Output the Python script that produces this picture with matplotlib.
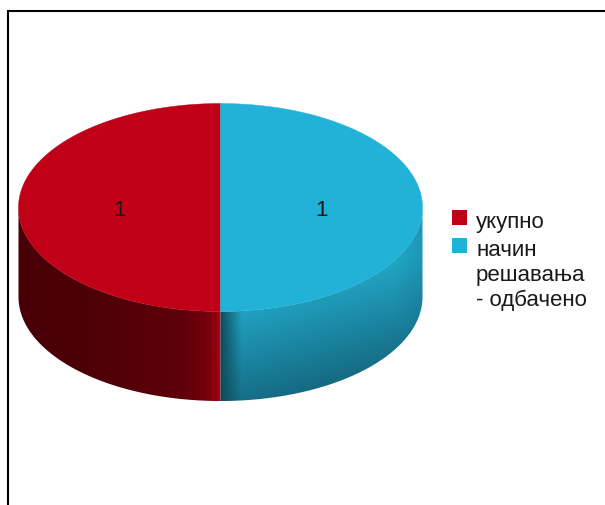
import numpy as np
import matplotlib
matplotlib.use("Agg")
import matplotlib.pyplot as plt
from matplotlib.patches import Polygon, Rectangle

plt.rcParams['font.family'] = ['Liberation Sans', 'DejaVu Sans']

categories = ["укупно", "начин\nрешавања\n- одбачено"]
values = [1, 1]
value_labels = ["1", "1"]
top_colors = ["#c00017", "#22b2d8"]

W, H = 605, 506
CX, CY = 220.5, 208.5
RX, RY = 202.0, 104.0
DEPTH = 89.5
FONT = 16


def ellipse_points(a0, a1, dy=0.0, n=200):
    t = np.radians(np.linspace(a0, a1, n))
    return np.column_stack([CX + RX * np.cos(t), CY + dy - RY * np.sin(t)])


def wall_path(a0, a1):
    upper = ellipse_points(a0, a1)
    lower = ellipse_points(a1, a0, dy=DEPTH)
    return np.vstack([upper, lower])


def red_wall():
    xs = np.arange(W) + 0.5
    stops_x = [18, 100, 185, 205, 214, 220]
    r = np.interp(xs, stops_x, [72, 78, 95, 112, 135, 170])
    b = np.interp(xs, stops_x, [6, 7, 10, 12, 14, 20])
    img = np.zeros((H, W, 3))
    img[:, :, 0], img[:, :, 2] = r, b
    return img / 255


def blue_wall():
    xx, yy = np.meshgrid(np.arange(W) + 0.5, np.arange(H) + 0.5)
    # diagonal shading, lighter to the upper right
    s = np.clip((yy - 255 + (xx - 420) * 0.28) / 135, 0, 1)
    top = np.array([33, 166, 198.0])
    bot = np.array([18, 88, 110.0])
    img = top + (bot - top) * s[:, :, None]
    # dark band next to the seam
    fade = np.clip((xx - 220) / 22, 0, 1)[:, :, None]
    img = np.array([14, 72, 88.0]) * (1 - fade) + img * fade
    # darker towards the right rim
    rim = np.clip((xx - 395) / 27, 0, 1)[:, :, None] * 0.25
    img = img * (1 - rim) + np.array([18, 110, 135.0]) * rim
    return img / 255


fig = plt.figure(figsize=(W / 100, H / 100), dpi=100)
ax = fig.add_axes([0, 0, 1, 1])

# frame, open on the right and at the bottom
ax.plot([7.5, 7.5, W], [H, 11.5, 11.5], color='black', lw=1.5, solid_joinstyle='miter')

# slice angles from the values: first slice goes left from 12 o'clock, second goes right
fractions = np.array(values) / sum(values)
wedges = [(90, 90 + 360 * fractions[0]), (90 - 360 * fractions[1], 90)]

# front wall, only the part below the rim is visible
walls = [(red_wall(), (180, 270)), (blue_wall(), (270, 360))]
for img, (a0, a1) in walls:
    im = ax.imshow(img, extent=(0, W, H, 0), aspect='auto', zorder=1, interpolation='bilinear')
    poly = Polygon(wall_path(a0, a1), closed=True, transform=ax.transData, fc='none', ec='none')
    ax.add_patch(poly)
    im.set_clip_path(poly)

for (a0, a1), col in zip(wedges, top_colors):
    pts = np.vstack([[CX, CY], ellipse_points(a0, a1)])
    ax.add_patch(Polygon(pts, closed=True, fc=col, ec=col, lw=0.3, zorder=2))

ax.set_xlim(0, W)
ax.set_ylim(H, 0)
ax.axis('off')

# slice value labels
for x, label in zip([CX - RX / 2, CX + RX / 2], value_labels):
    ax.text(x, CY, label, fontsize=FONT, color='#1a1a1a', ha='center', va='center_baseline', zorder=3)

# legend
ax.add_patch(Rectangle((452, 211), 15, 15, fc=top_colors[0], ec='none', zorder=3))
ax.add_patch(Rectangle((452, 239), 15, 15, fc=top_colors[1], ec='none', zorder=3))
ax.text(476, 228, categories[0], fontsize=FONT, color='#1a1a1a', va='baseline', ha='left')
for i, line in enumerate(categories[1].split("\n")):
    ax.text(476, 256 + 25 * i, line, fontsize=FONT, color='#1a1a1a', va='baseline', ha='left')

fig.savefig("out.png", dpi=100)
